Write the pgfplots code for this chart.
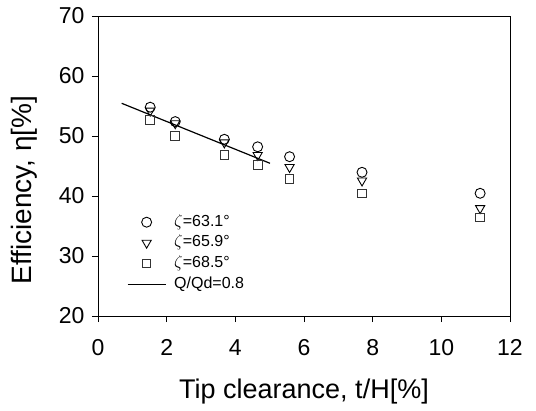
\documentclass[border=0pt]{standalone}
\usepackage{fontspec}
\setmainfont{Liberation Sans}
\usepackage{pgfplots}
\pgfplotsset{compat=1.18}
\begin{document}
\begin{tikzpicture}
\begin{axis}[
  scale only axis,
  width=412bp, height=300bp,
  xmin=0, xmax=12, ymin=20, ymax=70,
  xtick={0,2,...,12}, ytick={20,30,...,70},
  tick align=outside, tick pos=left,
  major tick length=6bp,
  axis line style={line width=0.9bp},
  every tick/.style={line width=0.9bp, black},
  /pgf/number format/assume math mode=true,
  ticklabel style={font=\fontsize{23bp}{26bp}\selectfont},
  xticklabel style={yshift=-14bp},
  yticklabel style={xshift=-4bp},
  xlabel={Tip clearance, t/H[\%]},
  ylabel={Efficiency, η[\%]},
  xlabel style={font=\fontsize{27bp}{30bp}\selectfont, at={(rel axis cs:0.5,0)}, anchor=center, yshift=-76bp},
  ylabel style={font=\fontsize{28bp}{30bp}\selectfont, at={(rel axis cs:-0.18,0.42)}, anchor=center, rotate=0},
  legend cell align=left,
  legend style={draw=none, fill=none, inner sep=0pt, anchor=north west,
    at={(rel axis cs:0.07,0.34)}, font=\fontsize{16bp}{20.7bp}\selectfont,
    row sep=4.7bp,
    nodes={inner sep=0pt, text height=12bp, text depth=4bp},
    /tikz/every odd column/.append style={column sep=8bp}},
  legend image code/.code={\draw[mark repeat=2,mark phase=2,#1] plot coordinates {(0bp,0bp) (19bp,0bp) (38bp,0bp)};},
]
\addplot[only marks, mark=o, mark size=5bp, line width=0.9bp, black] coordinates {
(1.52,54.8) (2.25,52.4) (3.68,49.45) (4.65,48.2) (5.58,46.55) (7.69,43.95) (11.13,40.45)};
\addlegendentry{$\zeta$=63.1°}
\addplot[only marks, mark=triangle, mark size=5.3bp, mark options={rotate=180}, line width=0.9bp, black] coordinates {
(1.52,54.2) (2.25,52.1) (3.68,48.9) (4.65,46.8) (5.58,44.8) (7.69,42.55) (11.13,37.95)};
\addlegendentry{$\zeta$=65.9°}
\addplot[only marks, mark=square, mark size=4.3bp, line width=0.9bp, black!80] coordinates {
(1.52,52.7) (2.25,50.0) (3.68,46.8) (4.65,45.2) (5.58,42.8) (7.69,40.45) (11.13,36.45)};
\addlegendentry{$\zeta$=68.5°}
\addplot[black, line width=1.2bp, no marks] coordinates {(0.69,55.45) (5.01,45.45)};
\addlegendentry{Q/Qd=0.8}
\end{axis}
\pgfresetboundingbox
\path[use as bounding box] (-98bp,-95bp) rectangle (438bp,316bp);
\end{tikzpicture}
\end{document}
